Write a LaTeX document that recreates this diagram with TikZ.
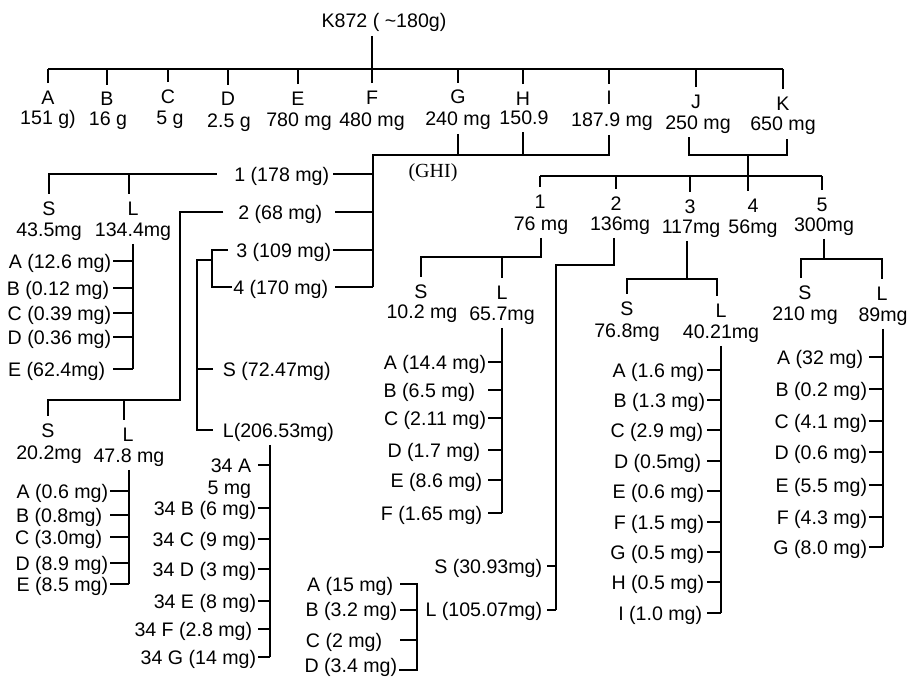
\documentclass[tikz,border=0pt]{standalone}
\usepackage{fontspec}
\setmainfont{Liberation Sans}
\newfontfamily\ghifont{Liberation Serif}
\begin{document}
\begin{tikzpicture}[x=1pt,y=-1pt,line width=1.7pt,
  lbl/.style={font=\fontsize{19.6}{21}\selectfont,inner xsep=1pt,inner ysep=3pt,text height=17.6pt,text depth=4pt},
  lc/.style={lbl,anchor=base},
  le/.style={lbl,anchor=base east},
  lw/.style={lbl,anchor=base west}]
\useasboundingbox (0,0) rectangle (909,679);

% ---------- top level ----------
\coordinate (bar) at (0,69);
\node[lc] (root) at (384,28) {K872 ( \textasciitilde180g)};
\foreach \n/\xl/\yl/\xv/\yv/\v in {A/48/104.5/48/125/151 g),B/107/106/108/126/16 g,C/168/103.5/170/124.5/5 g,D/228/106/229/128/2.5 g,E/298/105.5/299/126.5/780 mg,F/372/104.5/372/126.5/480 mg,G/458/104/458/126/240 mg,H/523/105.5/524/124.5/150.9,I/609/105/612/127/187.9 mg,J/696/108.5/698/129.5/250 mg,K/783/110.5/783/131/650 mg}{
  \node[lc] (t\n) at (\xl,\yl) {\n};
  \node[lc] (v\n) at (\xv,\yv) {\v};
  \draw (t\n.north) -- (t\n.north |- bar);
}
\draw (tA.north |- bar) -- (tK.north |- bar);
\draw (tF.north |- root.south) -- (tF.north |- bar);

% ---------- GHI ----------
\coordinate (ghib) at (373,155);
\node[le,inner xsep=3pt] (n1) at (333,181) {1 (178 mg)};
\node[le,inner xsep=12pt] (n2) at (335,219) {2 (68 mg)};
\node[le] (n3) at (333,257) {3 (109 mg)};
\node[le,inner xsep=6pt] (n4) at (335,294) {4 (170 mg)};
\draw (tG |- vG.south) -- (tG |- ghib);
\draw (tH |- vH.south) -- (tH |- ghib);
\draw (tI |- vI.south) -- (tI |- ghib) -- (ghib) -- (ghib |- n4.east);
\foreach \i in {1,...,4} \draw (n\i.east) -- (n\i.east -| ghib);
\node[font=\ghifont\fontsize{20}{22}\selectfont,anchor=base,inner sep=1pt] (ghi) at (433,178) {(GHI)};

% group 1 (178 mg)
\node[lc] (S1) at (49,215) {S};
\node[lc] (S1v) at (49,236) {43.5mg};
\node[lc] (L1) at (133,215) {L};
\node[lc] (L1v) at (133,236) {134.4mg};
\draw ([xshift=-14pt]n1.west) -- (n1.west -| S1.north) -- (S1.north);
\coordinate (L1s) at ([xshift=-4pt]L1.north);
\draw (L1s) -- (L1s |- n1.west);
\foreach \i/\y/\g/\txt in {1/261/1/A (12.6 mg),2/288/3/B (0.12 mg),3/313/1/C (0.39 mg),4/337/1/D (0.36 mg),5/369/7/E (62.4mg)}{
  \node[le,inner xsep=\g pt] (La\i) at (113,\y+7) {\txt};
  \draw (La\i.east) -- (La\i.east -| L1v.south);
}
\draw (L1v.south) -- (L1v.south |- La5.east);

% group 2 (68 mg)
\coordinate (c2) at (180,400);
\node[lc] (S2) at (48,437) {S};
\node[lc] (S2v) at (49,459) {20.2mg};
\node[lc] (L2) at (128,441) {L};
\node[lc] (L2v) at (129,462) {47.8 mg};
\draw ([xshift=-2pt]n2.west) -- (n2.west -| c2) -- (c2) -- (c2 -| S2.north) -- (S2.north);
\coordinate (L2s) at ([xshift=-4pt]L2.north);
\draw (L2s) -- (L2s |- c2);
\foreach \i/\y/\g/\txt in {1/491/1/A (0.6 mg),2/515/7/B (0.8mg),3/537/7/C (3.0mg),4/563/1/D (8.9 mg),5/584/1/E (8.5 mg)}{
  \node[le,inner xsep=\g pt] (Lb\i) at (110,\y+7) {\txt};
  \draw (Lb\i.east) -- (Lb\i.east -| L2v.south);
}
\draw (L2v.south) -- (L2v.south |- Lb5.east);

% group 3+4
\coordinate (c34) at (212,260);
\coordinate (cSL) at (197,260);
\node[lw] (S72) at (221,376) {S (72.47mg)};
\node[lw] (L206) at (221,437) {L(206.53mg)};
\coordinate (n3l) at ([xshift=-7pt]n3.west);
\coordinate (n4l) at ([xshift=5pt]n4.west);
\draw (n3l) -- (n3l -| c34) -- (n4l -| c34) -- (n4l);
\draw (c34) -- (cSL) -- (cSL |- L206.west) -- ([xshift=-8pt]L206.west);
\draw (cSL |- S72.west) -- ([xshift=-8pt]S72.west);
\coordinate (l206) at (270,0);
\foreach \i/\y/\g/\txt in {1/465/6/34 A,2/508/1/34 B (6 mg),3/539/1/34 C (9 mg),4/569/1/34 D (3 mg),5/601/1/34 E (8 mg),6/629/5/34 F (2.8 mg),7/657/1/34 G (14 mg)}{
  \node[le,inner xsep=\g pt] (Lc\i) at (258,\y+7) {\txt};
  \draw (Lc\i.east) -- (Lc\i.east -| l206);
}
\node[le] (Lc1v) at (253,494) {5 mg};
\draw (L206.south -| l206) -- (Lc7.east -| l206);

% ---------- J K ----------
\coordinate (jk1) at (689,155);
\coordinate (jk2) at (787,155);
\coordinate (jkm) at (748,155);
\coordinate (bar2) at (0,176);
\node[lc] (r1) at (540,208) {1}; \node[lc] (rv1) at (541,230) {76 mg};
\node[lc] (r2) at (616,210) {2}; \node[lc] (rv2) at (620,230) {136mg};
\node[lc] (r3) at (690,213) {3}; \node[lc] (rv3) at (691,233) {117mg};
\node[lc] (r4) at (753,212) {4}; \node[lc] (rv4) at (753,233) {56mg};
\node[lc] (r5) at (822,211) {5}; \node[lc] (rv5) at (824,231) {300mg};
\draw (jk1 |- vJ.south) -- (jk1) -- (jk2) -- (jk2 |- vK.south);
\draw (jkm) -- (jkm |- r4.north);
\draw (r1.north |- bar2) -- (r5.north |- bar2);
\foreach \i in {1,2,3,5} \draw (r\i.north) -- (r\i.north |- bar2);

% group 1 (76 mg)
\coordinate (b1) at (0,257);
\node[lc] (S3) at (421,298) {S}; \node[lc] (S3v) at (422,318) {10.2 mg};
\node[lc] (L3) at (502,299) {L}; \node[lc] (L3v) at (502,320) {65.7mg};
\draw (rv1.south) -- (rv1.south |- b1) -- (S3.north |- b1) -- (S3.north);
\draw (L3.north) -- (L3.north |- b1);
\foreach \i/\y/\g/\txt in {1/362/1/A (14.4 mg),2/390/12/B (6.5 mg),3/418/1/C (2.11 mg),4/450/7/D (1.7 mg),5/480/5/E (8.6 mg),6/513/5/F (1.65 mg)}{
  \node[le,inner xsep=\g pt] (Ld\i) at (488,\y+7) {\txt};
  \draw (Ld\i.east) -- (Ld\i.east -| L3v.south);
}
\draw (L3v.south) -- (L3v.south |- Ld6.east);

% group 2 (136 mg)
\coordinate (b2) at (556,265);
\node[le,inner xsep=4pt] (S30) at (547,573) {S (30.93mg)};
\node[le,inner xsep=4pt] (L105) at (547,616.5) {L (105.07mg)};
\coordinate (rv2s) at ([xshift=-6pt]rv2.south);
\draw (rv2s) -- (rv2s |- b2) -- (b2) -- (b2 |- L105.east);
\draw (S30.east) -- (S30.east -| b2);
\draw (L105.east) -- (L105.east -| b2);
\coordinate (br) at (417,670);
\node[le,inner xsep=6pt] (A105) at (400,591) {A (15 mg)};
\node[le,inner xsep=2pt] (B105) at (400,616.5) {B (3.2 mg)};
\node[le,inner xsep=17pt] (C105) at (400,647) {C (2 mg)};
\node[le] (D105) at (399,672) {D (3.4 mg)};
\draw (A105.east) -- (A105.east -| br) -- (br) -- (br -| D105.east);
\draw (B105.east) -- ([xshift=-5pt]L105.west);
\draw (C105.east) -- (C105.east -| br);

% group 3 (117 mg)
\coordinate (b3) at (0,279);
\node[lc] (S4) at (627,315) {S}; \node[lc] (S4v) at (627,337) {76.8mg};
\node[lc] (L4) at (721,317) {L}; \node[lc] (L4v) at (721,338) {40.21mg};
\coordinate (rv3s) at ([xshift=-4pt]rv3.south);
\coordinate (L4s) at ([xshift=-4pt]L4.north);
\draw (rv3s) -- (rv3s |- b3);
\draw (S4.north) -- (S4.north |- b3) -- (L4s |- b3) -- (L4s);
\foreach \i/\y/\g/\txt in {1/370/2/A (1.6 mg),2/400/1/B (1.3 mg),3/430/3/C (2.9 mg),4/461/5/D (0.5mg),5/491/2/E (0.6 mg),6/522/2/F (1.5 mg),7/552/2/G (0.5 mg),8/582/2/H (0.5 mg),9/613/4/I (1.0 mg)}{
  \node[le,inner xsep=\g pt] (Le\i) at (707,\y+7) {\txt};
  \draw (Le\i.east) -- (Le\i.east -| L4v.south);
}
\draw (L4v.south) -- (L4v.south |- Le9.east);

% group 5 (300 mg)
\coordinate (b5) at (0,259);
\node[lc] (S5) at (805,299) {S}; \node[lc] (S5v) at (805,320) {210 mg};
\node[lc] (L5) at (882,300) {L}; \node[lc] (L5v) at (883,321) {89mg};
\coordinate (S5s) at ([xshift=-4pt]S5.north);
\draw (rv5.south) -- (rv5.south |- b5);
\draw (S5s) -- (S5s |- b5) -- (L5.north |- b5) -- (L5.north);
\foreach \i/\y/\g/\txt in {1/357/5/A (32 mg),2/389/1/B (0.2 mg),3/421/1/C (4.1 mg),4/452/1/D (0.6 mg),5/485/1/E (5.5 mg),6/517/1/F (4.3 mg),7/547/1/G (8.0 mg)}{
  \node[le,inner xsep=\g pt] (Lf\i) at (869,\y+7) {\txt};
  \draw (Lf\i.east) -- (Lf\i.east -| L5v.south);
}
\draw (L5v.south) -- (L5v.south |- Lf7.east);
\end{tikzpicture}
\end{document}
